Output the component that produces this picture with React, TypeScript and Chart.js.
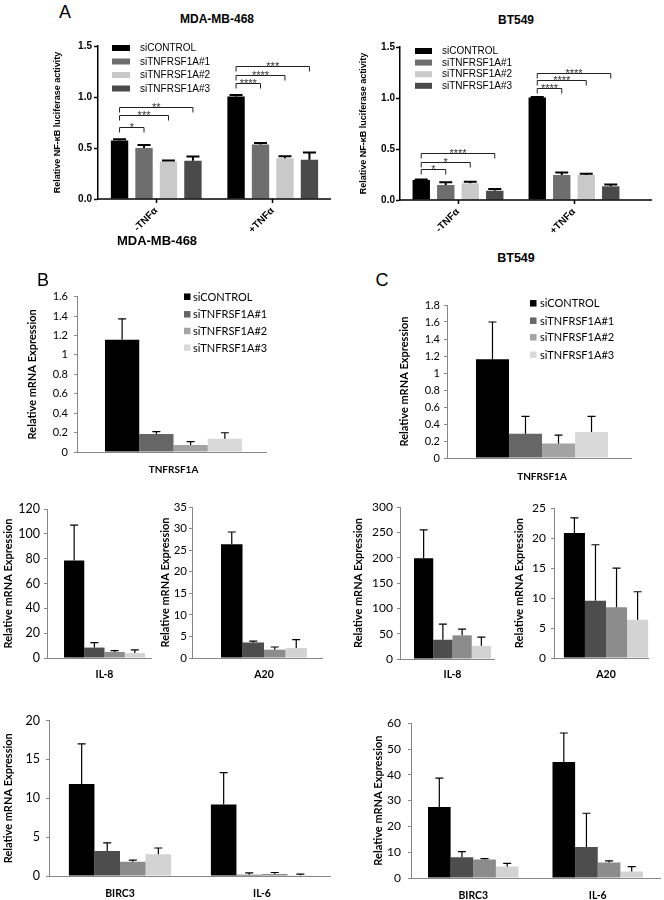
import React, { useEffect, useRef } from "react";
import { Chart, registerables } from "chart.js";

Chart.register(...registerables);

// ---------------- DATA ----------------
const seriesNames = ["siCONTROL", "siTNFRSF1A#1", "siTNFRSF1A#2", "siTNFRSF1A#3"];

// Panel A: NF-kB luciferase
const luciferaseCategories = ["-TNFα", "+TNFα"];
const mdaLucMeans = [[0.574, 1.004], [0.5, 0.535], [0.368, 0.4], [0.375, 0.385]];
const mdaLucErrors = [[0.013, 0.016], [0.03, 0.013], [0.01, 0.02], [0.042, 0.071]];
const mdaLucSig = [
  { cat: 0, target: 1, y: 0.71, label: "*" },
  { cat: 0, target: 2, y: 0.825, label: "***" },
  { cat: 0, target: 3, y: 0.906, label: "**" },
  { cat: 1, target: 1, y: 1.135, label: "****" },
  { cat: 1, target: 2, y: 1.216, label: "****" },
  { cat: 1, target: 3, y: 1.3, label: "***" },
];
const btLucMeans = [[0.196, 1.004], [0.147, 0.245], [0.163, 0.245], [0.091, 0.134]];
const btLucErrors = [[0.006, 0.006], [0.026, 0.025], [0.017, 0.013], [0.017, 0.019]];
const btLucSig = [
  { cat: 0, target: 1, y: 0.3, label: "*" },
  { cat: 0, target: 2, y: 0.375, label: "*" },
  { cat: 0, target: 3, y: 0.456, label: "****" },
  { cat: 1, target: 1, y: 1.1, label: "****" },
  { cat: 1, target: 2, y: 1.18, label: "****" },
  { cat: 1, target: 3, y: 1.245, label: "****" },
];

// Panels B / C: relative mRNA expression
const tnfCategories = ["TNFRSF1A"];
const mdaTnfMeans = [[1.156], [0.185], [0.072], [0.137]];
const mdaTnfErrors = [[0.214], [0.025], [0.034], [0.061]];
const btTnfMeans = [[1.162], [0.286], [0.172], [0.305]];
const btTnfErrors = [[0.438], [0.204], [0.098], [0.185]];

const il8Categories = ["IL-8"];
const mdaIl8Means = [[78.5], [8.4], [4.9], [4.0]];
const mdaIl8Errors = [[28.5], [4.0], [1.0], [2.5]];
const btIl8Means = [[199], [38], [46.7], [26]];
const btIl8Errors = [[56], [31], [12.3], [17]];

const a20Categories = ["A20"];
const mdaA20Means = [[26.35], [3.6], [1.93], [2.3]];
const mdaA20Errors = [[2.85], [0.3], [0.62], [1.95]];
const btA20Means = [[20.85], [9.57], [8.46], [6.4]];
const btA20Errors = [[2.55], [9.33], [6.54], [4.66]];

const lateCategories = ["BIRC3", "IL-6"];
const mdaLateMeans = [[11.83, 9.19], [3.23, 0.15], [1.83, 0.25], [2.8, 0.1]];
const mdaLateErrors = [[5.17, 4.11], [1.03, 0.25], [0.21, 0.2], [0.8, 0.15]];
const btLateMeans = [[27.5, 45.0], [8.0, 12.05], [7.2, 5.96], [4.44, 2.54]];
const btLateErrors = [[11.2, 11.2], [2.2, 13.05], [0.3, 0.64], [1.26, 1.9]];

// ---------------- STYLE ----------------
const PRISM_FONT = "'Liberation Sans', Arial, sans-serif";
const EXCEL_FONT = "Lato, 'Open Sans', sans-serif";
const prismColors = ["#000000", "#6e6e6e", "#c9c9c9", "#4a4a4a"];
const excelTopColors = ["#000000", "#666666", "#a3a3a3", "#d9d9d9"];
const excelColors = ["#000000", "#4d4d4d", "#8c8c8c", "#d3d3d3"];

type Bracket = { cat: number; target: number; y: number; label: string };
type Spec = {
  key: string;
  style: "prism" | "excel";
  top: number;
  right: number;
  bottom: number;
  plot: { l: number; t: number; r: number; b: number };
  axisEnd: number;
  categories: string[];
  means: number[][];
  errors: number[][];
  colors: string[];
  yMax: number;
  yStep: number;
  yTitle: string;
  titleCX: number;
  titleSize: number;
  tickRight: number;
  tickSize: number;
  xLabelSize: number;
  xRot: number;
  xPad: number;
  catPct: number;
  barPct: number;
  cap: number;
  errWidth: number;
  legend?: { x: number; ys: number[]; bw: number; bh: number; tx: number; size: number };
  brackets?: Bracket[];
};

const lucTitle = "Relative NF-\u03BAB luciferase activity";
const mrnaTitle = "Relative mRNA Expression";

const specs: Spec[] = [
  {
    key: "mdaLuc", style: "prism", top: 34, right: 334, bottom: 236,
    plot: { l: 98, t: 46, r: 331, b: 199 }, axisEnd: 331,
    categories: luciferaseCategories, means: mdaLucMeans, errors: mdaLucErrors, colors: prismColors,
    yMax: 1.5, yStep: 0.5, yTitle: lucTitle, titleCX: 58, titleSize: 9,
    tickRight: 92, tickSize: 10, xLabelSize: 10, xRot: 45, xPad: 2,
    catPct: 0.84, barPct: 0.71, cap: 13, errWidth: 2,
    legend: { x: 112, ys: [48, 61.5, 75, 88.5], bw: 18, bh: 6, tx: 140, size: 10 },
    brackets: mdaLucSig,
  },
  {
    key: "btLuc", style: "prism", top: 35, right: 655, bottom: 236,
    plot: { l: 400, t: 47, r: 632, b: 200 }, axisEnd: 652,
    categories: luciferaseCategories, means: btLucMeans, errors: btLucErrors, colors: prismColors,
    yMax: 1.5, yStep: 0.5, yTitle: lucTitle, titleCX: 364, titleSize: 9,
    tickRight: 395, tickSize: 10, xLabelSize: 10, xRot: 45, xPad: 2,
    catPct: 0.845, barPct: 0.71, cap: 13, errWidth: 2,
    legend: { x: 415, ys: [51, 62.6, 74.2, 85.8], bw: 17, bh: 6, tx: 442, size: 10 },
    brackets: btLucSig,
  },
  {
    key: "mdaTnf", style: "excel", top: 284, right: 273, bottom: 482,
    plot: { l: 77, t: 296, r: 270, b: 452 }, axisEnd: 267,
    categories: tnfCategories, means: mdaTnfMeans, errors: mdaTnfErrors, colors: excelTopColors,
    yMax: 1.6, yStep: 0.2, yTitle: mrnaTitle, titleCX: 32, titleSize: 11,
    tickRight: 68, tickSize: 11, xLabelSize: 10, xRot: 0, xPad: 12,
    catPct: 0.71, barPct: 1, cap: 8, errWidth: 1.2,
    legend: { x: 184, ys: [296.7, 314.3, 331, 347.7], bw: 6.5, bh: 6.5, tx: 193, size: 11 },
  },
  {
    key: "btTnf", style: "excel", top: 293, right: 640, bottom: 490,
    plot: { l: 447, t: 305, r: 637, b: 458 }, axisEnd: 632,
    categories: tnfCategories, means: btTnfMeans, errors: btTnfErrors, colors: excelTopColors,
    yMax: 1.8, yStep: 0.2, yTitle: mrnaTitle, titleCX: 404, titleSize: 11,
    tickRight: 440, tickSize: 11, xLabelSize: 10, xRot: 0, xPad: 13,
    catPct: 0.695, barPct: 1, cap: 8, errWidth: 1.2,
    legend: { x: 530, ys: [303.3, 320.7, 337.3, 354.7], bw: 6.5, bh: 6.5, tx: 540, size: 11 },
  },
  {
    key: "mdaIl8", style: "excel", top: 497, right: 165, bottom: 690,
    plot: { l: 47, t: 509, r: 162, b: 658 }, axisEnd: 152,
    categories: il8Categories, means: mdaIl8Means, errors: mdaIl8Errors, colors: excelColors,
    yMax: 120, yStep: 20, yTitle: mrnaTitle, titleCX: 8, titleSize: 11,
    tickRight: 40, tickSize: 12.5, xLabelSize: 10.5, xRot: 0, xPad: 10,
    catPct: 0.704, barPct: 1, cap: 8, errWidth: 1.2,
  },
  {
    key: "mdaA20", style: "excel", top: 495, right: 339, bottom: 690,
    plot: { l: 192, t: 507, r: 336, b: 658 }, axisEnd: 323,
    categories: a20Categories, means: mdaA20Means, errors: mdaA20Errors, colors: excelColors,
    yMax: 35, yStep: 5, yTitle: mrnaTitle, titleCX: 165, titleSize: 11,
    tickRight: 187, tickSize: 11.5, xLabelSize: 10.5, xRot: 0, xPad: 10,
    catPct: 0.597, barPct: 1, cap: 8, errWidth: 1.2,
  },
  {
    key: "btIl8", style: "excel", top: 495, right: 508, bottom: 690,
    plot: { l: 400, t: 507, r: 505, b: 659 }, axisEnd: 495,
    categories: il8Categories, means: btIl8Means, errors: btIl8Errors, colors: excelColors,
    yMax: 300, yStep: 50, yTitle: mrnaTitle, titleCX: 358, titleSize: 11,
    tickRight: 393, tickSize: 12, xLabelSize: 10.5, xRot: 0, xPad: 9,
    catPct: 0.733, barPct: 1, cap: 8, errWidth: 1.2,
  },
  {
    key: "btA20", style: "excel", top: 496, right: 661, bottom: 690,
    plot: { l: 554, t: 508, r: 658, b: 658 }, axisEnd: 649,
    categories: a20Categories, means: btA20Means, errors: btA20Errors, colors: excelColors,
    yMax: 25, yStep: 5, yTitle: mrnaTitle, titleCX: 519, titleSize: 11,
    tickRight: 546, tickSize: 12, xLabelSize: 10.5, xRot: 0, xPad: 10,
    catPct: 0.81, barPct: 1, cap: 8, errWidth: 1.2,
  },
  {
    key: "mdaLate", style: "excel", top: 707, right: 336, bottom: 900,
    plot: { l: 49, t: 719, r: 333, b: 876 }, axisEnd: 331,
    categories: lateCategories, means: mdaLateMeans, errors: mdaLateErrors, colors: excelColors,
    yMax: 20, yStep: 5, yTitle: mrnaTitle, titleCX: 8, titleSize: 11,
    tickRight: 40, tickSize: 12.5, xLabelSize: 10.5, xRot: 0, xPad: 11,
    catPct: 0.72, barPct: 1, cap: 8, errWidth: 1.2,
  },
  {
    key: "btLate", style: "excel", top: 709, right: 663, bottom: 900,
    plot: { l: 411, t: 721, r: 660, b: 878 }, axisEnd: 661,
    categories: lateCategories, means: btLateMeans, errors: btLateErrors, colors: excelColors,
    yMax: 60, yStep: 10, yTitle: mrnaTitle, titleCX: 378, titleSize: 11,
    tickRight: 401, tickSize: 12, xLabelSize: 10.5, xRot: 0, xPad: 11,
    catPct: 0.727, barPct: 1, cap: 8, errWidth: 1.2,
  },
];

const pageTexts = [
  { text: "A", x: 65, y: 12, size: 18, bold: false },
  { text: "MDA-MB-468", x: 217, y: 19, size: 12, bold: true },
  { text: "BT549", x: 516, y: 20, size: 12, bold: true },
  { text: "MDA-MB-468", x: 157, y: 240, size: 13, bold: true },
  { text: "BT549", x: 516, y: 258, size: 12.5, bold: true },
  { text: "B", x: 43, y: 280, size: 18, bold: false },
  { text: "C", x: 382, y: 280, size: 18, bold: false },
];

// ---------------- CHART BUILDING ----------------
function geometry(s: Spec) {
  const yLeft = s.titleCX - s.titleSize * 0.6;
  const cx = Math.floor(yLeft) - 1;
  const cy = s.top;
  return { cx, cy, w: s.right - cx, h: s.bottom - cy, yLeft };
}

function buildConfig(s: Spec): any {
  const prism = s.style === "prism";
  const family = prism ? PRISM_FONT : EXCEL_FONT;
  const { cx, cy, yLeft } = geometry(s);
  const tickLen = prism ? 4 : 3;
  const axisColor = prism ? "#000000" : "#878787";
  const axisWidth = prism ? 1.5 : 1;
  const padLeft = yLeft - cx;
  const yWidth = s.plot.l - yLeft;
  const padTop = s.plot.t - cy;
  const padRight = s.right - s.plot.r;
  const xHeight = s.bottom - s.plot.b;
  const yPad = s.plot.l - tickLen - s.tickRight;

  const errPlugin = {
    id: "errbars_" + s.key,
    afterDatasetsDraw(chart: any) {
      const ctx = chart.ctx;
      const ys = chart.scales.y;
      ctx.save();
      ctx.strokeStyle = "#000";
      ctx.lineWidth = s.errWidth;
      chart.data.datasets.forEach((ds: any, i: number) => {
        const meta = chart.getDatasetMeta(i);
        meta.data.forEach((bar: any, j: number) => {
          const e = ds.errors[j];
          const top = ys.getPixelForValue(ds.data[j] + e);
          ctx.beginPath();
          ctx.moveTo(bar.x, bar.y);
          ctx.lineTo(bar.x, top);
          ctx.moveTo(bar.x - s.cap / 2, top);
          ctx.lineTo(bar.x + s.cap / 2, top);
          ctx.stroke();
        });
      });
      // baseline (x axis line)
      const area = chart.chartArea;
      ctx.strokeStyle = axisColor;
      ctx.lineWidth = axisWidth;
      ctx.beginPath();
      const by = Math.round(area.bottom) + (prism ? 0 : 0.5);
      ctx.moveTo(area.left - (prism ? 0.75 : 0), by);
      ctx.lineTo(s.axisEnd - cx, by);
      ctx.stroke();
      // significance brackets
      if (s.brackets) {
        ctx.strokeStyle = "#222";
        ctx.fillStyle = "#333";
        ctx.lineWidth = 1;
        ctx.font = `11px ${PRISM_FONT}`;
        ctx.textAlign = "center";
        ctx.textBaseline = "alphabetic";
        s.brackets.forEach((b) => {
          const a0 = chart.getDatasetMeta(0).data[b.cat];
          const a1 = chart.getDatasetMeta(b.target).data[b.cat];
          const y = Math.round(ys.getPixelForValue(b.y)) + 0.5;
          ctx.beginPath();
          ctx.moveTo(a0.x, y + 5);
          ctx.lineTo(a0.x, y);
          ctx.lineTo(a1.x, y);
          ctx.lineTo(a1.x, y + 5);
          ctx.stroke();
          ctx.fillText(b.label, (a0.x + a1.x) / 2, y + 3);
        });
      }
      // legend
      if (s.legend) {
        const L = s.legend;
        ctx.font = `${L.size}px ${family}`;
        ctx.textAlign = "left";
        ctx.textBaseline = "middle";
        chart.data.datasets.forEach((ds: any, i: number) => {
          const yy = L.ys[i] - cy;
          ctx.fillStyle = ds.backgroundColor;
          ctx.fillRect(L.x - cx, yy - L.bh / 2, L.bw, L.bh);
          ctx.fillStyle = "#000";
          ctx.fillText(ds.label, L.tx - cx, yy + 0.5);
        });
      }
      ctx.restore();
    },
  };

  return {
    type: "bar",
    data: {
      labels: s.categories,
      datasets: seriesNames.map((name, i) => ({
        label: name,
        data: s.means[i],
        errors: s.errors[i],
        backgroundColor: s.colors[i],
        borderWidth: 0,
        categoryPercentage: s.catPct,
        barPercentage: s.barPct,
      })),
    },
    options: {
      responsive: false,
      animation: false,
      devicePixelRatio: 1,
      layout: { padding: { left: padLeft, top: padTop, right: padRight, bottom: 0 } },
      plugins: { legend: { display: false }, tooltip: { enabled: false }, title: { display: false } },
      scales: {
        x: {
          type: "category",
          offset: true,
          grid: {
            display: prism,
            drawOnChartArea: false,
            drawTicks: prism,
            tickLength: 4,
            tickColor: "#000",
            tickWidth: 1.5,
            offset: false,
          },
          border: { display: false },
          ticks: {
            color: "#000",
            font: { family, size: s.xLabelSize, weight: "bold" },
            padding: s.xPad,
            minRotation: s.xRot,
            maxRotation: s.xRot,
            autoSkip: false,
          },
          afterFit: (sc: any) => {
            sc.height = xHeight;
          },
        },
        y: {
          min: 0,
          max: s.yMax,
          ticks: {
            stepSize: s.yStep,
            color: "#000",
            padding: yPad,
            font: { family, size: s.tickSize, weight: prism ? "bold" : "normal" },
            callback: (v: any) => (prism ? Number(v).toFixed(1) : String(Math.round(Number(v) * 100) / 100)),
          },
          grid: {
            display: true,
            drawOnChartArea: false,
            drawTicks: true,
            tickLength: tickLen,
            tickColor: axisColor,
            tickWidth: axisWidth,
          },
          border: { display: true, color: axisColor, width: axisWidth },
          title: {
            display: true,
            text: s.yTitle,
            color: "#000",
            padding: 0,
            font: { family, size: s.titleSize, weight: "bold" },
          },
          afterFit: (sc: any) => {
            sc.width = yWidth;
          },
        },
      },
    },
    plugins: [errPlugin],
  };
}

function BarPanel({ spec }: { spec: Spec }) {
  const ref = useRef<HTMLCanvasElement | null>(null);
  const g = geometry(spec);
  useEffect(() => {
    if (!ref.current) return;
    const chart = new Chart(ref.current, buildConfig(spec));
    return () => chart.destroy();
  }, [spec]);
  return (
    <canvas
      ref={ref}
      width={g.w}
      height={g.h}
      style={{ position: "absolute", left: g.cx, top: g.cy, width: g.w, height: g.h }}
    />
  );
}

export default function App() {
  return (
    <div
      style={{
        position: "absolute",
        left: 0,
        top: 0,
        width: 664,
        height: 900,
        background: "#ffffff",
        overflow: "hidden",
      }}
    >
      {specs.map((s) => (
        <BarPanel key={s.key} spec={s} />
      ))}
      {pageTexts.map((t, i) => (
        <div
          key={i}
          style={{
            position: "absolute",
            left: t.x,
            top: t.y,
            transform: "translate(-50%, -50%)",
            fontFamily: PRISM_FONT,
            fontSize: t.size,
            fontWeight: t.bold ? 700 : 400,
            lineHeight: 1,
            whiteSpace: "nowrap",
            color: "#000",
          }}
        >
          {t.text}
        </div>
      ))}
    </div>
  );
}
